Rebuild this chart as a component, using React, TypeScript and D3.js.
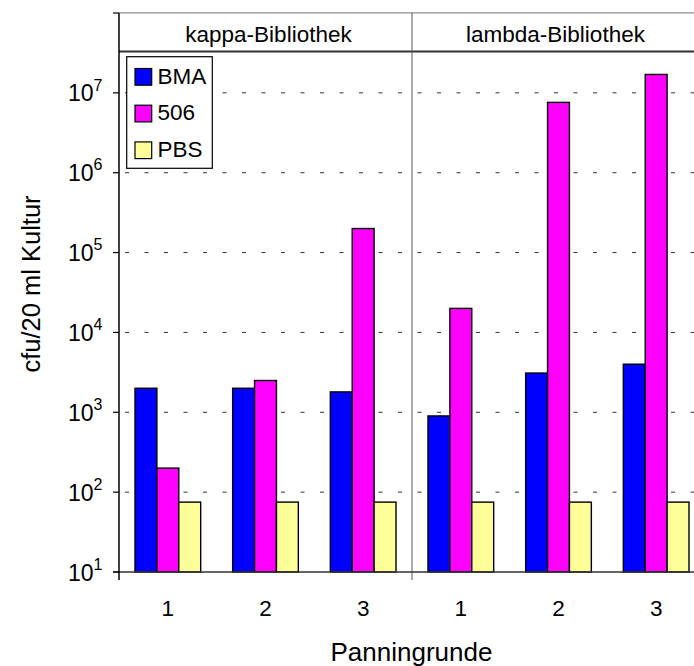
import React from "react";
import * as d3 from "d3";

// Libraries (facets), panning rounds and series
const libraries = ["kappa-Bibliothek", "lambda-Bibliothek"];
const rounds = ["1", "2", "3"];
const seriesNames = ["BMA", "506", "PBS"];
const seriesColors = ["#0000FF", "#FF00FF", "#FFFF99"];

// cfu per 20 ml culture, per round, for each library
const kappaBMA = [2000, 2000, 1800];
const kappa506 = [200, 2500, 200000];
const kappaPBS = [75, 75, 75];
const lambdaBMA = [900, 3100, 4000];
const lambda506 = [20000, 7600000, 17000000];
const lambdaPBS = [75, 75, 75];

const yTickExponents = [1, 2, 3, 4, 5, 6, 7, 8];

const W = 694;
const H = 666;
const FONT = "Arial, 'Liberation Sans', Helvetica, sans-serif";

const plotLeft = 119;
const plotRight = 705;
const plotTop = 13;
const plotBottom = 572;
const stripBottom = 51.5;

export default function App() {
  const values: Record<string, number[][]> = {
    "kappa-Bibliothek": [kappaBMA, kappa506, kappaPBS],
    "lambda-Bibliothek": [lambdaBMA, lambda506, lambdaPBS],
  };

  const y = d3.scaleLog().domain([10, 1e8]).range([plotBottom, plotTop]);
  const panel = d3.scaleBand<string>().domain(libraries).range([plotLeft, plotRight]).padding(0);
  const group = d3.scaleBand<string>().domain(rounds).range([0, panel.bandwidth()]).padding(0);
  const bar = d3
    .scaleBand<string>()
    .domain(seriesNames)
    .range([0, group.bandwidth()])
    .paddingInner(0)
    .paddingOuter(0.73);

  const gridExps = yTickExponents.filter((e) => e >= 2 && e <= 7);

  return (
    <svg
      width={W}
      height={H}
      style={{ position: "absolute", left: 0, top: 0, background: "#fff" }}
      fontFamily={FONT}
    >
      <rect x={0} y={0} width={W} height={H} fill="#fff" />

      {/* dashed horizontal gridlines */}
      {gridExps.map((e) => (
        <line
          key={"g" + e}
          x1={plotLeft}
          x2={W}
          y1={y(Math.pow(10, e))}
          y2={y(Math.pow(10, e))}
          stroke="#333"
          strokeWidth={1}
          strokeDasharray="4 15.5"
          strokeDashoffset={-6}
        />
      ))}

      {/* bars */}
      {libraries.map((lib) => (
        <g key={lib} transform={`translate(${panel(lib)},0)`}>
          {rounds.map((r, ri) => (
            <g key={r} transform={`translate(${group(r)},0)`}>
              {seriesNames.map((s, si) => {
                const v = values[lib][si][ri];
                const top = y(v);
                return (
                  <rect
                    key={s}
                    x={bar(s)}
                    y={top}
                    width={bar.bandwidth()}
                    height={plotBottom - top}
                    fill={seriesColors[si]}
                    stroke="#000"
                    strokeWidth={1.4}
                  />
                );
              })}
            </g>
          ))}
        </g>
      ))}

      {/* top border (10^8) */}
      <line x1={plotLeft} x2={W} y1={y(1e8)} y2={y(1e8)} stroke="#555" strokeWidth={1.2} />

      {/* facet strip */}
      <rect x={plotLeft} y={y(1e8) + 0.6} width={W - plotLeft} height={stripBottom - y(1e8) - 1.6} fill="#fff" />
      <line x1={plotLeft} x2={W} y1={stripBottom} y2={stripBottom} stroke="#333" strokeWidth={2} />
      {libraries.map((lib, i) => (
        <text
          key={"t" + lib}
          x={(panel(lib) as number) + panel.bandwidth() / 2 + (i === 0 ? 3 : -3)}
          y={41.5}
          textAnchor="middle"
          fontSize={22.5}
          fill="#000"
        >
          {lib}
        </text>
      ))}

      {/* panel divider */}
      {libraries.slice(1).map((lib) => (
        <line
          key={"d" + lib}
          x1={panel(lib)}
          x2={panel(lib)}
          y1={plotTop}
          y2={plotBottom + 8}
          stroke="#555"
          strokeWidth={1}
        />
      ))}

      {/* x baseline */}
      <line x1={113} x2={W} y1={plotBottom} y2={plotBottom} stroke="#333" strokeWidth={1.5} />

      {/* y axis */}
      <line x1={plotLeft} x2={plotLeft} y1={plotTop} y2={plotBottom + 8} stroke="#000" strokeWidth={1.5} />
      {yTickExponents.map((e) => {
        const ty = y(Math.pow(10, e));
        return (
          <g key={"yt" + e}>
            <line x1={113} x2={plotLeft} y1={ty} y2={ty} stroke="#000" strokeWidth={1.2} />
            {e <= 7 && (
              <>
                <text x={93.5} y={ty + 8.5} textAnchor="end" fontSize={23} fill="#000">
                  10
                </text>
                <text x={93.5} y={ty - 2.3} textAnchor="start" fontSize={16} fill="#000">
                  {e}
                </text>
              </>
            )}
          </g>
        );
      })}

      {/* x tick labels */}
      {libraries.map((lib) =>
        rounds.map((r) => (
          <text
            key={"xl" + lib + r}
            x={(panel(lib) as number) + (group(r) as number) + group.bandwidth() / 2}
            y={616}
            textAnchor="middle"
            fontSize={22.5}
            fill="#000"
          >
            {r}
          </text>
        ))
      )}

      {/* axis titles */}
      <text x={411.5} y={661} textAnchor="middle" fontSize={26} fill="#000">
        Panningrunde
      </text>
      <text
        transform={`translate(40,284) rotate(-90)`}
        textAnchor="middle"
        fontSize={25.5}
        fill="#000"
      >
        cfu/20 ml Kultur
      </text>

      {/* legend */}
      <g>
        <rect x={126.7} y={56.7} width={85.6} height={111.6} fill="#fff" stroke="#000" strokeWidth={1.2} />
        {seriesNames.map((s, i) => (
          <g key={"lg" + s} transform={`translate(0,${i * 36.7})`}>
            <rect x={135} y={68.5} width={16.7} height={16.7} fill={seriesColors[i]} stroke="#000" strokeWidth={1.2} />
            <text x={157.5} y={83.5} fontSize={22.5} fill="#000">
              {s}
            </text>
          </g>
        ))}
      </g>
    </svg>
  );
}
